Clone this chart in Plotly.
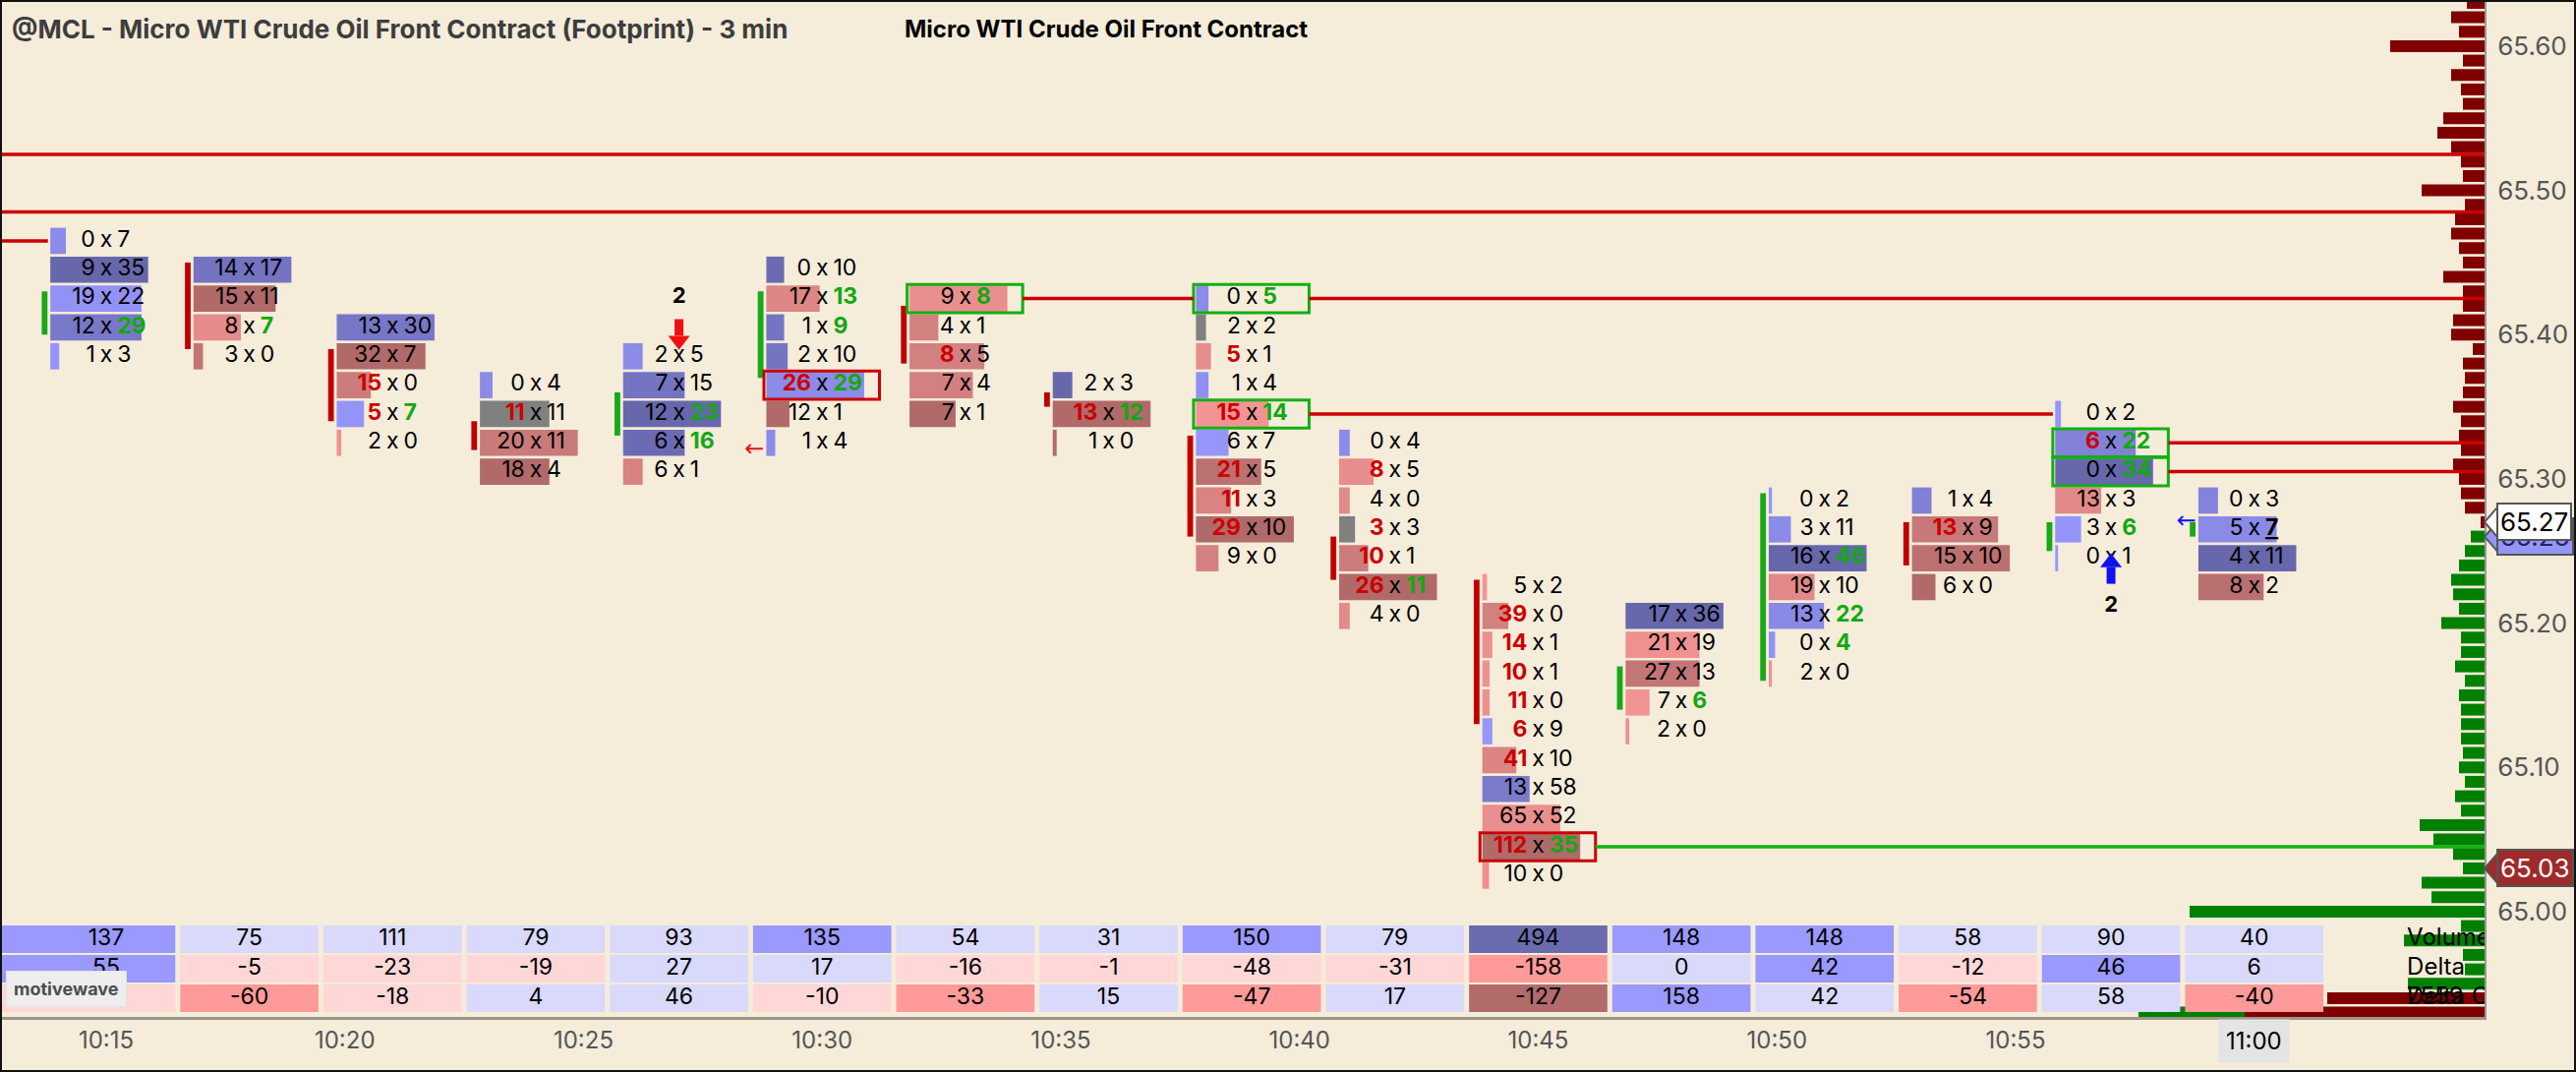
import plotly.graph_objects as go

# ---------------------------------------------------------------------------
# data (times are minutes after 10:00, 3-minute bars)
# ---------------------------------------------------------------------------
bar_minutes = [15, 18, 21, 24, 27, 30, 33, 36, 39, 42, 45, 48, 51, 54, 57, 60]

# price of the top footprint row of each bar (rows are 2 ticks = 0.02 tall)
row_top = [65.465, 65.445, 65.405, 65.365, 65.385, 65.445, 65.425, 65.365,
           65.425, 65.325, 65.225, 65.205, 65.285, 65.285, 65.345, 65.285]

bids = [
    [0, 9, 19, 12, 1],
    [14, 15, 8, 3],
    [13, 32, 15, 5, 2],
    [0, 11, 20, 18],
    [2, 7, 12, 6, 6],
    [0, 17, 1, 2, 26, 12, 1],
    [9, 4, 8, 7, 7],
    [2, 13, 1],
    [0, 2, 5, 1, 15, 6, 21, 11, 29, 9],
    [0, 8, 4, 3, 10, 26, 4],
    [5, 39, 14, 10, 11, 6, 41, 13, 65, 112, 10],
    [17, 21, 27, 7, 2],
    [0, 3, 16, 19, 13, 0, 2],
    [1, 13, 15, 6],
    [0, 6, 0, 13, 3, 0],
    [0, 5, 4, 8],
]
asks = [
    [7, 35, 22, 29, 3],
    [17, 11, 7, 0],
    [30, 7, 0, 7, 0],
    [4, 11, 11, 4],
    [5, 15, 23, 16, 1],
    [10, 13, 9, 10, 29, 1, 4],
    [8, 1, 5, 4, 1],
    [3, 12, 0],
    [5, 2, 1, 4, 14, 7, 5, 3, 10, 0],
    [4, 5, 0, 3, 1, 11, 0],
    [2, 0, 1, 1, 0, 9, 10, 58, 52, 35, 0],
    [36, 19, 13, 6, 0],
    [2, 11, 46, 10, 22, 4, 0],
    [4, 9, 10, 0],
    [2, 22, 34, 3, 6, 1],
    [3, 7, 11, 2],
]

bar_open = [65.40, 65.45, 65.39, 65.34, 65.33, 65.37, 65.42, 65.36,
            65.33, 65.26, 65.23, 65.14, 65.16, 65.27, 65.25, 65.26]
bar_close = [65.43, 65.39, 65.34, 65.32, 65.36, 65.43, 65.38, 65.35,
             65.26, 65.23, 65.13, 65.17, 65.29, 65.24, 65.27, 65.27]

prev_bar_delta = 70      # delta of the 10:12 bar, left of the view
last_price = 65.27
bid_price = 65.26
marker_price = 65.03

# highlighted footprint cells
box_minute = [30, 33, 39, 39, 45, 57, 57]
box_price = [65.365, 65.425, 65.425, 65.345, 65.045, 65.325, 65.305]
box_side = ["sell", "buy", "buy", "buy", "sell", "buy", "buy"]

# imbalance levels (None = runs past the edge of the view)
level_price = [65.525, 65.485, 65.465, 65.425, 65.425, 65.345, 65.325, 65.305, 65.045]
level_from = [None, None, None, 33, 39, 39, 57, 57, 45]
level_to = [None, None, 15, 39, None, 57, None, None, None]
level_side = ["sell", "sell", "sell", "sell", "sell", "sell", "sell", "sell", "buy"]

# signal arrows
signal_minute = [27, 57]
signal_price = [65.40, 65.238]
signal_dir = ["down", "up"]
signal_count = [2, 2]
hint_minute = [30, 60]
hint_price = [65.32, 65.27]
hint_side = ["sell", "buy"]

# session volume profile, one value per 0.01 from the top price down
profile_top = 65.64
profile_sell = [26, 9, 17, 13, 48, 11, 17, 12, 11, 21,
                24, 17, 12, 11, 32, 10, 15, 17, 13, 11,
                21, 11, 11, 16, 17, 6, 11, 10, 11, 16,
                12, 13, 12, 16, 13, 12, 10, 2, 0, 0,
                0, 0, 0, 0, 0, 0, 0, 0, 0, 0,
                0, 0, 0, 0, 0, 0, 0, 0, 0, 0,
                0, 0, 0, 0, 0, 0, 0, 0, 0, 0,
                80, 122]
profile_buy = [0, 0, 0, 0, 0, 0, 0, 0, 0, 0,
               0, 0, 0, 0, 0, 0, 0, 0, 0, 0,
               0, 0, 0, 0, 0, 0, 0, 0, 0, 0,
               0, 0, 0, 0, 0, 0, 0, 0, 7, 10,
               13, 17, 16, 13, 22, 12, 12, 15, 10, 13,
               12, 12, 12, 11, 13, 10, 15, 12, 33, 26,
               16, 11, 32, 27, 150, 12, 41, 11, 10, 39,
               0, 54]

time_ticks = [15, 20, 25, 30, 35, 40, 45, 50, 55]
time_labels = ["10:15", "10:20", "10:25", "10:30", "10:35", "10:40", "10:45", "10:50", "10:55"]
last_bar_label = "11:00"
price_ticks = [65.00, 65.10, 65.20, 65.30, 65.40, 65.50, 65.60]
table_labels = ["Volume", "Delta", "Delta Change"]

# ---------------------------------------------------------------------------
# styling
# ---------------------------------------------------------------------------
BG = "#f5ecda"
FONT = "Inter"
PLOT_W = 2527
X_MIN, X_MAX = 12.776, 64.825
Y_MIN, Y_MAX = 64.927, 65.632
MIN_PER_PX = (X_MAX - X_MIN) / PLOT_W
PROFILE_SCALE = 2 * MIN_PER_PX          # 2 px per contract
RED_TXT, GREEN_TXT = "#cc0000", "#12a812"
LINE_COL = {"sell": "#cc0000", "buy": "#12b012"}
BLUE_LIGHT, BLUE_DARK = (152, 152, 255), (103, 103, 172)
RED_LIGHT, RED_DARK = (246, 150, 150), (176, 106, 106)
LAV, BLUE, DBLUE = "#d9d9fb", "#9999ff", "#6b6bb0"
PINK, SALMON, DRED = "#ffd7d7", "#ff9a9a", "#b26b6b"

BAR_START, BAR_MAX = -1.17, 2.05
TXT_GAP = 0.23
CELL_W = 2.897


def mix(c0, c1, f):
    f = max(0.0, min(1.0, f))
    return "rgb({},{},{})".format(*[round(a + (b - a) * f) for a, b in zip(c0, c1)])


def table_color(row, v):
    if row == 0:
        return LAV if v < 120 else BLUE if v < 300 else DBLUE
    pos_cut = (30, 100) if row == 1 else (100, 200)
    neg_cut = (100, 200) if row == 1 else (30, 100)
    if v >= 0:
        return LAV if v < pos_cut[0] else BLUE if v < pos_cut[1] else DBLUE
    return PINK if -v < neg_cut[0] else SALMON if -v < neg_cut[1] else DRED


fig = go.Figure()

# ---- volume profile, anchored on the right edge ----------------------------
prof_prices = [round(profile_top - 0.01 * i, 2) for i in range(len(profile_sell))]
fig.add_trace(go.Bar(orientation="h", y=prof_prices,
                     x=[-v * PROFILE_SCALE for v in profile_sell], base=X_MAX,
                     width=0.0082, marker=dict(color="#800000", line_width=0), hoverinfo="skip"))
fig.add_trace(go.Bar(orientation="h", y=prof_prices,
                     x=[-v * PROFILE_SCALE for v in profile_buy],
                     base=[X_MAX - v * PROFILE_SCALE for v in profile_sell],
                     width=0.0082, marker=dict(color="#008000", line_width=0), hoverinfo="skip"))

# ---- imbalance level lines -----------------------------------------------
for side in ("sell", "buy"):
    lx, ly = [], []
    for p, a, b, s in zip(level_price, level_from, level_to, level_side):
        if s != side:
            continue
        x0 = X_MIN if a is None else a + 1.2
        x1 = X_MAX if b is None else b - 1.22
        lx += [x0, x1, None]
        ly += [p, p, None]
    fig.add_trace(go.Scatter(x=lx, y=ly, mode="lines", line=dict(color=LINE_COL[side], width=3.5),
                             hoverinfo="skip"))

# ---- footprint cells ------------------------------------------------------
cy, cbase, clen, ccol = [], [], [], []
bx, by, btxt, bcol = [], [], [], []
ax_, ay, atxt, acol = [], [], [], []
sx, sy = [], []
for t, top, bb, aa in zip(bar_minutes, row_top, bids, asks):
    n = len(bb)
    tot = [b + a for b, a in zip(bb, aa)]
    vmax = max(tot)
    dmax = max(abs(a - b) for b, a in zip(bb, aa)) or 1
    for i in range(n):
        p = round(top - 0.02 * i, 3)
        b, a = bb[i], aa[i]
        d = a - b
        if d > 0:
            col = mix(BLUE_LIGHT, BLUE_DARK, d / dmax)
        elif d < 0:
            col = mix(RED_LIGHT, RED_DARK, -d / dmax)
        else:
            col = "rgb(128,128,128)"
        cy.append(p)
        cbase.append(t + BAR_START)
        clen.append(tot[i] / vmax * BAR_MAX)
        ccol.append(col)

        bid_imb = i > 0 and b > 0 and b >= 2 * aa[i - 1]
        ask_imb = i < n - 1 and a > 0 and a >= 2 * bb[i + 1]
        bx.append(t - TXT_GAP)
        by.append(p)
        btxt.append(f"<b>{b}</b>" if bid_imb else str(b))
        bcol.append(RED_TXT if bid_imb else "black")
        ax_.append(t + TXT_GAP)
        ay.append(p)
        is_last = t == bar_minutes[-1] and abs(p - last_price) <= 0.0051
        if is_last:
            atxt.append(f"<b><u>{a}</u></b>")
        else:
            atxt.append(f"<b>{a}</b>" if ask_imb else str(a))
        acol.append(GREEN_TXT if ask_imb else "black")
        sx.append(t)
        sy.append(p)

fig.add_trace(go.Bar(orientation="h", y=cy, x=clen, base=cbase, width=0.0182,
                     marker=dict(color=ccol, line_width=0), hoverinfo="skip"))

# candle bodies (open -> close)
fig.add_trace(go.Bar(
    x=[t - 1.29 for t in bar_minutes],
    y=[max(abs(c - o), 0.004) for o, c in zip(bar_open, bar_close)],
    base=[min(o, c) for o, c in zip(bar_open, bar_close)],
    width=0.12,
    marker=dict(color=["#18a818" if c > o else "#c00000" for o, c in zip(bar_open, bar_close)],
                line_width=0),
    hoverinfo="skip"))

# highlighted cells
fig.add_trace(go.Bar(orientation="h", y=box_price, x=[2.42] * len(box_price),
                     base=[t - 1.22 for t in box_minute], width=0.0195,
                     marker=dict(color="rgba(0,0,0,0)",
                                 line=dict(color=["#cc0000" if s == "sell" else "#12b012" for s in box_side],
                                           width=3)),
                     hoverinfo="skip"))

fp_font = dict(family=FONT, size=23)
fig.add_trace(go.Scatter(x=bx, y=by, mode="text", text=btxt, textposition="middle left",
                         textfont=dict(fp_font, color=bcol), hoverinfo="skip"))
fig.add_trace(go.Scatter(x=sx, y=sy, mode="text", text=["x"] * len(sx), textposition="middle center",
                         textfont=dict(fp_font, color="black"), hoverinfo="skip"))
fig.add_trace(go.Scatter(x=ax_, y=ay, mode="text", text=atxt, textposition="middle right",
                         textfont=dict(fp_font, color=acol), hoverinfo="skip"))

# signal arrows
for t, p, d, c in zip(signal_minute, signal_price, signal_dir, signal_count):
    colr = "#ee1111" if d == "down" else "#1111ee"
    sgn = -1 if d == "down" else 1
    fig.add_trace(go.Scatter(x=[t], y=[p - sgn * 0.005], mode="markers",
                             marker=dict(symbol="line-ns", size=12, line=dict(color=colr, width=9)),
                             hoverinfo="skip"))
    fig.add_trace(go.Scatter(x=[t], y=[p + sgn * 0.004], mode="markers",
                             marker=dict(symbol="triangle-down" if d == "down" else "triangle-up",
                                         size=19, color=colr, line_width=0),
                             hoverinfo="skip"))
    fig.add_trace(go.Scatter(x=[t], y=[p - sgn * 0.026], mode="text", text=[f"<b>{c}</b>"],
                             textfont=dict(family=FONT, size=22, color="black"), hoverinfo="skip"))

fig.add_trace(go.Scatter(x=[t - 1.42 for t in hint_minute], y=hint_price, mode="text",
                         text=["\u2190"] * len(hint_minute),
                         textfont=dict(family="DejaVu Sans", size=24,
                                       color=["#ee1111" if s == "sell" else "#1111ee" for s in hint_side]),
                         hoverinfo="skip"))

# ---- bottom table -----------------------------------------------------------
vol = [sum(b) + sum(a) for b, a in zip(bids, asks)]
delta = [sum(a) - sum(b) for b, a in zip(bids, asks)]
change = [d - p for d, p in zip(delta, [prev_bar_delta] + delta[:-1])]
rows = [vol, delta, change]

# the first column of cells runs out to the left edge of the panel
cell_x = [t for t in bar_minutes]
cell_w = [CELL_W for _ in bar_minutes]
first_right = bar_minutes[0] + CELL_W / 2
cell_x[0] = (X_MIN + first_right) / 2
cell_w[0] = first_right - X_MIN

tx, tw, tbase, tcol, ttx, tty, ttxt = [], [], [], [], [], [], []
for r, vals in enumerate(rows):
    for t, cx, w, v in zip(bar_minutes, cell_x, cell_w, vals):
        tx.append(cx)
        tw.append(w)
        tbase.append(r - 0.467)
        tcol.append(table_color(r, v))
        ttx.append(t)
        tty.append(r)
        ttxt.append(str(v))
fig.add_trace(go.Bar(x=tx, y=[0.933] * len(tx), base=tbase, width=tw,
                     marker=dict(color=tcol, line_width=0), xaxis="x", yaxis="y3", hoverinfo="skip"))
fig.add_trace(go.Scatter(x=ttx, y=tty, mode="text", text=ttxt, textposition="middle center",
                         textfont=dict(family=FONT, size=23, color="black"),
                         xaxis="x", yaxis="y3", hoverinfo="skip"))
fig.add_trace(go.Scatter(x=[63.2] * 3 + [63.2], y=[0, 1, 2, 2], mode="text",
                         text=table_labels + ["7559"], textposition="middle right",
                         textfont=dict(family=FONT, size=24, color="black"),
                         xaxis="x", yaxis="y3", hoverinfo="skip"))

# ---- price labels on the axis ---------------------------------------------
tip_dx, tip_dy = 13 / PLOT_W, 15 / 1467
shapes = []
annotations = []
for p, bg, fg in ((bid_price, "#9595f5", "#222266"), (last_price, "white", "black"),
                  (marker_price, "#9e2b2b", "white")):
    shapes.append(dict(type="path", xref="paper", yref="y", layer="above",
                       path=f"M 1.0 {p} L {1 + tip_dx} {p + tip_dy} L {1 + tip_dx} {p - tip_dy} Z",
                       fillcolor=bg, line=dict(color="#555555", width=2)))
    annotations.append(dict(xref="paper", yref="y", x=1, xshift=12, y=p, xanchor="left",
                            yanchor="middle", text=f"{p:.2f}", showarrow=False,
                            bgcolor=bg, bordercolor="#555555", borderwidth=2, borderpad=2,
                            font=dict(family=FONT, size=26, color=fg)))

annotations.append(dict(xref="x", yref="paper", x=bar_minutes[-1], y=-24 / 1034,
                        xanchor="center", yanchor="middle", text=last_bar_label,
                        showarrow=False, bgcolor="#e4e4e4", borderpad=7,
                        font=dict(family=FONT, size=24, color="black")))
annotations.append(dict(xref="paper", yref="paper", x=1125 / PLOT_W, y=(1034 - 29) / 1034,
                        xanchor="center", yanchor="middle",
                        text="<b>Micro WTI Crude Oil Front Contract</b>", showarrow=False,
                        font=dict(family=FONT, size=24, color="black")))
annotations.append(dict(xref="paper", yref="paper", x=6 / PLOT_W, y=(1034 - 1005) / 1034,
                        xanchor="left", yanchor="middle", text="<b>motivewave</b>", showarrow=False,
                        bgcolor="#eeeeee", bordercolor="#e2e2e2", borderwidth=1, borderpad=7,
                        font=dict(family=FONT, size=18, color="#4d4d4d")))

# frame round the whole picture
shapes.append(dict(type="rect", xref="paper", yref="paper", x0=1 / PLOT_W, x1=2619 / PLOT_W,
                   y0=(1034 - 1089) / 1034, y1=(1034 - 1) / 1034,
                   line=dict(color="#111111", width=2), layer="above"))

fig.update_layout(
    width=2620, height=1090,
    margin=dict(l=0, r=93, t=0, b=56),
    paper_bgcolor=BG, plot_bgcolor=BG,
    barmode="overlay", showlegend=False,
    font=dict(family=FONT, color="#555555"),
    title=dict(text="<b>@MCL - Micro WTI Crude Oil Front Contract (Footprint) - 3 min</b>",
               x=12 / 2620, xanchor="left", y=1 - 30 / 1090, yanchor="middle",
               font=dict(family=FONT, size=26, color="#3d3d3d")),
    xaxis=dict(range=[X_MIN, X_MAX], tickvals=time_ticks, ticktext=time_labels,
               showgrid=False, zeroline=False, showline=True, linecolor="#9c958b", linewidth=3,
               ticks="", ticklabelstandoff=0, tickfont=dict(family=FONT, size=24, color="#555555")),
    yaxis=dict(range=[Y_MIN, Y_MAX], side="right", tickvals=price_ticks,
               ticktext=[f"{v:.2f}" for v in price_ticks],
               showgrid=False, zeroline=False, showline=True, linecolor="#999999", linewidth=2,
               ticks="", ticklabelstandoff=6, tickfont=dict(family=FONT, size=26, color="#555555")),
    yaxis3=dict(overlaying="y", anchor="x", range=[2.633, -31.833], visible=False),
    shapes=shapes,
    annotations=annotations,
)

# the page is exactly as large as the figure: drop the browser's body margin
fig.write_html("out.html", config={"displayModeBar": False},
               post_script="document.body.style.margin='0px';")
